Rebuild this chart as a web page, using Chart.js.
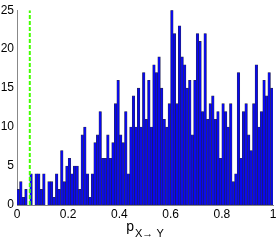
<!DOCTYPE html>
<html>
<head>
<meta charset="utf-8">
<script src="https://cdn.jsdelivr.net/npm/chart.js@4"></script>
<style>
  html, body { margin: 0; padding: 0; background: #fff; }
  #wrap { width: 280px; height: 241px; }
</style>
</head>
<body>
<div id="wrap"><canvas id="histChart" width="280" height="241"></canvas></div>
<script>
// histogram counts, 100 bins over [0, 1]
const counts = [
  2, 3, 1, 2, 0, 4, 0, 4, 4, 2,
  4, 0, 3, 3, 1, 4, 2, 7, 3, 5,
  6, 4, 5, 5, 2, 9, 10, 4, 1, 4,
  8, 9, 12, 6, 6, 9, 6, 8, 13, 16,
  9, 8, 12, 4, 10, 14, 10, 15, 10, 17,
  11, 16, 10, 18, 17, 19, 15, 11, 10, 13,
  25, 22, 13, 23, 19, 18, 15, 16, 9, 16,
  22, 21, 12, 22, 11, 13, 14, 11, 12, 6,
  13, 12, 10, 13, 3, 4, 17, 6, 12, 13,
  9, 7, 13, 18, 10, 12, 16, 14, 17, 15
];
const xTicks = [0, 0.2, 0.4, 0.6, 0.8, 1];
const yTicks = [0, 5, 10, 15, 20, 25];
const threshold = 0.05;
const xLabel = 'p';
const xLabelSub = 'X\u2192 Y';

const binCenters = counts.map((c, i) => (i + 0.5) / counts.length);
const barPoints = binCenters.map((x, i) => ({ x: x, y: counts[i] }));
const thresholdLine = [{ x: threshold, y: yTicks[0] }, { x: threshold, y: yTicks[yTicks.length - 1] }];

const tickFont = { family: 'Liberation Sans', size: 12 };

// x label with subscript
const axisTitlePlugin = {
  id: 'axisTitle',
  afterDraw(chart) {
    const ctx = chart.ctx;
    const area = chart.chartArea;
    ctx.save();
    ctx.fillStyle = '#000';
    ctx.textBaseline = 'alphabetic';
    ctx.font = '14px "Liberation Sans"';
    const pw = ctx.measureText(xLabel).width;
    ctx.font = '11px "Liberation Sans"';
    const sw = ctx.measureText(xLabelSub).width;
    const cx = (area.left + area.right) / 2;
    let x0 = cx - (pw + sw + 1) / 2;
    ctx.font = '14px "Liberation Sans"';
    ctx.fillText(xLabel, x0, 231);
    ctx.font = '11px "Liberation Sans"';
    ctx.fillText(xLabelSub, x0 + pw + 1, 237);
    ctx.restore();
  }
};

new Chart(document.getElementById('histChart').getContext('2d'), {
  type: 'bar',
  data: {
    datasets: [
      {
        type: 'bar',
        data: barPoints,
        backgroundColor: '#0808f0',
        borderColor: 'rgba(30,30,60,0.95)',
        borderWidth: 0.6,
        borderSkipped: false,
        barPercentage: 1,
        categoryPercentage: 1,
        order: 2
      },
      {
        type: 'line',
        data: thresholdLine,
        borderColor: '#44ff00',
        borderWidth: 2,
        borderDash: [4, 2],
        pointRadius: 0,
        fill: false,
        order: 1
      }
    ]
  },
  options: {
    responsive: false,
    animation: false,
    layout: { padding: { top: 10, right: 7, left: 0, bottom: 0 } },
    plugins: { legend: { display: false }, tooltip: { enabled: false } },
    scales: {
      x: {
        type: 'linear',
        min: 0, max: 1,
        offset: false,
        grid: { display: false, drawTicks: false },
        border: { display: true, color: '#888' },
        afterBuildTicks: s => { s.ticks = xTicks.map(v => ({ value: v })); },
        afterFit: s => { s.height = 36; },
        ticks: {
          color: '#000', font: tickFont, padding: 2, maxRotation: 0,
          callback: v => String(v)
        }
      },
      y: {
        min: 0, max: 25,
        grid: { display: false, drawTicks: false },
        border: { display: true, color: '#888' },
        afterBuildTicks: s => { s.ticks = yTicks.map(v => ({ value: v })); },
        afterFit: s => { s.width = 17; },
        ticks: { color: '#000', font: tickFont, padding: 3 }
      }
    }
  },
  plugins: [axisTitlePlugin]
});
</script>
</body>
</html>
